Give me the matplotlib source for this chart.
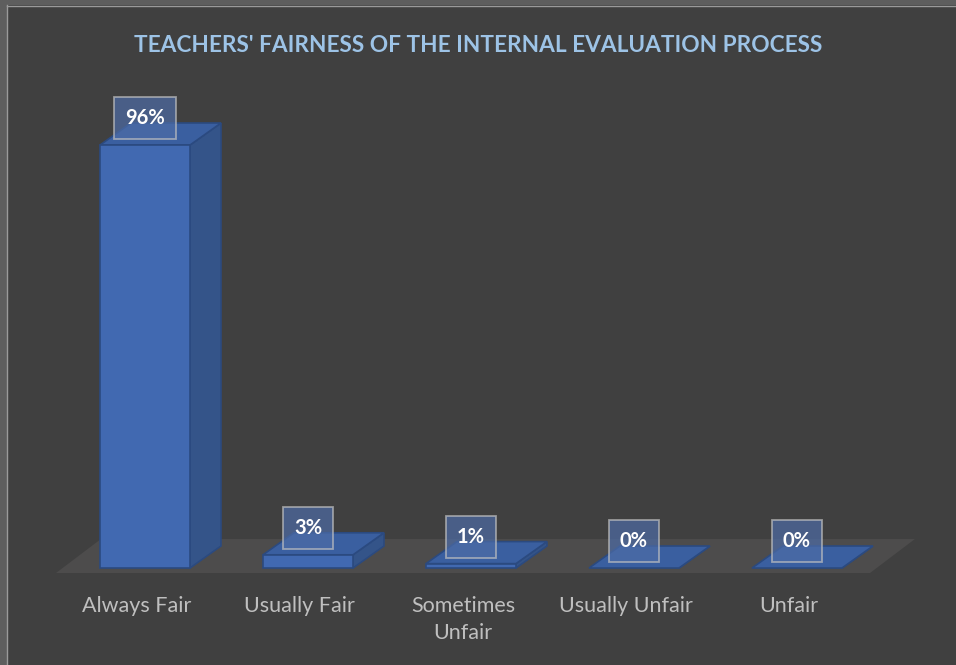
import numpy as np
import matplotlib
matplotlib.use('Agg')
import matplotlib.pyplot as plt
from matplotlib.patches import Polygon, Rectangle

plt.rcParams['font.family'] = ['Lato', 'DejaVu Sans']

# data
categories = ['Always Fair', 'Usually Fair', 'Sometimes\nUnfair', 'Usually Unfair', 'Unfair']
values = [96, 3, 1, 0, 0]
title = "TEACHERS' FAIRNESS OF THE INTERNAL EVALUATION PROCESS"

bg = '#404040'
front_c = '#4169b1'
side_c = '#345489'
top_c = '#3a5fa0'
edge_c = '#2b4a80'

fig = plt.figure(figsize=(9.56, 6.65), dpi=100, facecolor=bg)
ax = fig.add_axes([0, 0, 1, 1])
ax.set_facecolor(bg)
ax.set_xlim(-0.8896, 4.9755)
ax.set_ylim(-22.01, 128.92)
ax.axis('off')

# frame strip on the left / top edge
fig.patches.append(Rectangle((0, 0), 7 / 956, 1, transform=fig.transFigure,
                             facecolor='#5e5e5e', edgecolor='none', zorder=0))
fig.patches.append(Rectangle((0, 1 - 5 / 665), 1, 5 / 665, transform=fig.transFigure,
                             facecolor='#5e5e5e', edgecolor='none', zorder=0))
fig.add_artist(plt.Line2D([6.5 / 956, 6.5 / 956], [0, 1 - 5 / 665], transform=fig.transFigure,
                          color='#9a9a9a', lw=1))
fig.add_artist(plt.Line2D([6.5 / 956, 1], [1 - 5.5 / 665, 1 - 5.5 / 665], transform=fig.transFigure,
                          color='#9a9a9a', lw=1))

n = len(categories)
w = 0.552      # bar width in category units
dx, dy = 0.19, 5.0   # depth of the bars
fdx, fdy = 0.275, 7.7  # depth of the floor

# floor
fl, fr, fb = -0.546, n - 1 + 0.448, -1.13
floor = Polygon([(fl, fb), (fr, fb), (fr + fdx, fb + fdy), (fl + fdx, fb + fdy)],
                closed=True, facecolor='#4d4c4c', edgecolor='none', zorder=1)
ax.add_patch(floor)

for i, v in enumerate(values):
    x0, x1 = i - w / 2, i + w / 2
    # side
    ax.add_patch(Polygon([(x1, 0), (x1 + dx, dy), (x1 + dx, v + dy), (x1, v)],
                         closed=True, facecolor=side_c, edgecolor=edge_c, lw=1.2, zorder=2))
    # top
    ax.add_patch(Polygon([(x0, v), (x1, v), (x1 + dx, v + dy), (x0 + dx, v + dy)],
                         closed=True, facecolor=top_c, edgecolor=edge_c, lw=1.2, zorder=2))
    # front
    if v > 0:
        ax.add_patch(Rectangle((x0, 0), w, v, facecolor=front_c, edgecolor=edge_c,
                               lw=1.2, zorder=3))
    # data label
    ax.text(i, v + 6.1, f'{v}%', ha='center', va='center', color='white',
            fontsize=14.5, fontweight='bold', zorder=5,
            bbox=dict(boxstyle='square,pad=0.55', facecolor='#4d6ca6', alpha=0.7,
                      edgecolor='#c0c0c0', lw=1.3))
    # category label
    ax.text(i - 0.05, -6.4, categories[i], ha='center', va='top', color='#bfbfbf',
            fontsize=15.5, linespacing=1.45, zorder=5)

fig.text(0.5, 1 - 45 / 665, title, ha='center', va='center', color='#9dc3e6',
         fontsize=16.3, fontweight='bold')

fig.savefig('out.png', dpi=100, facecolor=bg)
